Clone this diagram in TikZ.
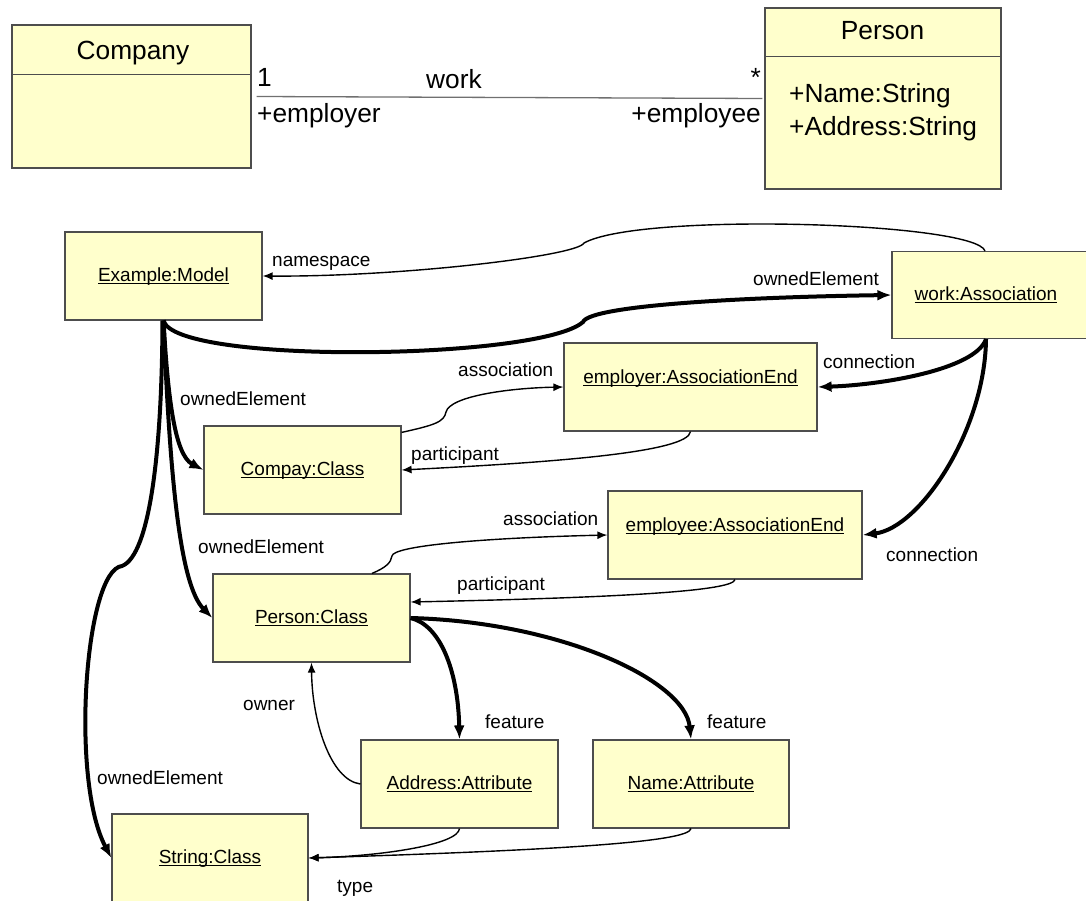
\documentclass[tikz,border=0pt]{standalone}
\usepackage{fontspec}
\setmainfont{Liberation Sans}
\usetikzlibrary{arrows.meta}
\definecolor{boxfill}{HTML}{FFFFCC}
\definecolor{boxline}{HTML}{4D4D4D}
\definecolor{assocline}{HTML}{707070}
\newcommand\lowfont{\fontsize{19}{23}\selectfont}
\newcommand\topfont{\fontsize{26.3}{31}\selectfont}
% underlined object name with a firm rule just below the baseline
\newcommand\objname[1]{\setbox0=\hbox{#1}\rlap{\rule[-3.2pt]{\wd0}{1.4pt}}\box0}
\begin{document}
\begin{tikzpicture}[x=1pt,y=-1pt,
  classbox/.style={draw=boxline,fill=boxfill,line width=1.2pt,inner sep=0pt},
  toptext/.style={font=\topfont,inner sep=0pt},
  obj/.style={draw=boxline,fill=boxfill,line width=1.2pt,minimum width=197pt,
    minimum height=88pt,inner sep=0pt,font=\lowfont,text height=14pt,text depth=4pt},
  objhigh/.style={obj,text depth=22pt},
  lbl/.style={font=\lowfont,inner sep=0pt,anchor=base west},
  thinlink/.style={line width=1.4pt,-{Latex[length=10pt,width=8pt]}},
  thicklink/.style={line width=4pt,-{Latex[length=14pt,width=11pt]}},
]
\useasboundingbox (0,0) rectangle (1086,901);
\fill[white] (0,0) rectangle (1086,901);

% ---------- class diagram ----------
\node[classbox,minimum width=239pt,minimum height=143pt] (company) at (131.5,96.5) {};
\draw[boxline,line width=1.2pt] ([yshift=-50pt]company.north west) -- ([yshift=-50pt]company.north east);
\node[toptext,anchor=base] (companyname) at (133,60) {Company};

\node[classbox,minimum width=236pt,minimum height=181pt] (person) at (883,98.5) {};
\draw[boxline,line width=1.2pt] ([yshift=-49pt]person.north west) -- ([yshift=-49pt]person.north east);
\node[toptext,anchor=base] (personname) at (882.5,40) {Person};
\node[toptext,anchor=base west] (attrname) at (789,103) {+Name:String};
\node[toptext,anchor=base west] (attraddr) at (789,136) {+Address:String};

\draw[assocline,line width=1.3pt] ([xshift=5pt]company.east) -- ([xshift=-2pt]person.west);
\node[toptext,anchor=base west] (multone) at (257,87) {1};
\node[toptext,anchor=base west] (assocname) at (426,89) {work};
\node[toptext,anchor=base west] (roleemployer) at (257,123) {+employer};
\node[toptext,anchor=base east] (multmany) at (761,87) {*};
\node[toptext,anchor=base east] (roleemployee) at (761,123) {+employee};

% ---------- object diagram ----------
\node[obj] (model) at (163.5,276) {\objname{Example:Model}};
\node[obj,minimum width=204pt,minimum height=87pt] (work) at (994,295) {\objname{work:Association}\hspace*{16pt}};
\node[objhigh,minimum width=253pt] (empr) at (690.5,387) {\objname{employer:AssociationEnd}};
\node[obj] (compay) at (302.5,470) {\objname{Compay:Class}};
\node[objhigh,minimum width=254pt] (empe) at (735,535) {\objname{employee:AssociationEnd}};
\node[obj] (personc) at (311.5,618) {\objname{Person:Class}};
\node[obj] (addr) at (459.5,784) {\objname{Address:Attribute}};
\node[obj,minimum width=196pt] (name) at (691,784) {\objname{Name:Attribute}};
\node[obj,minimum width=196pt] (string) at (210,858) {\objname{String:Class}};

% links
\draw[thinlink] ([xshift=-9pt]work.north) .. controls (975,222) and (640,212) .. (584,243)
  .. controls (578,256) and (400,277) .. (model.east);
\draw[thicklink] (model.south) .. controls (175,365) and (540,360) .. (583,322)
  .. controls (590,305) and (750,297) .. (work.west);
\draw[thicklink] ([xshift=-8pt]work.south) .. controls (975,370) and (880,385) .. (empr.east);
\draw[thicklink] ([xshift=-8pt]work.south) .. controls (985,430) and (920,528) .. (empe.east);
\draw[thinlink] ([yshift=-7pt]compay.north east) .. controls (435,425) and (444,422) .. (446,412)
  .. controls (450,396) and (510,388) .. (empr.west);
\draw[thinlink] (empr.south) .. controls (688,452) and (560,462) .. (compay.east);
\draw[thinlink] ([xshift=60.5pt]personc.north) .. controls (385,568) and (391,563) .. (392,556)
  .. controls (393,546) and (480,538) .. (empe.west);
\draw[thinlink] (empe.south) .. controls (733,592) and (600,598) .. ([yshift=16pt]personc.east);
\draw[thicklink] (model.south) .. controls (168,400) and (175,455) .. (compay.west);
\draw[thicklink] (model.south) .. controls (170,480) and (180,585) .. (personc.west);
\draw[thicklink] ([xshift=-1pt]model.south) .. controls (162,450) and (150,555) .. (122,566)
  .. controls (85,570) and (70,780) .. (string.west);
\draw[thicklink] (personc.east) .. controls (440,625) and (458,670) .. (addr.north);
\draw[thicklink] (personc.east) .. controls (560,622) and (685,680) .. (name.north);
\draw[thinlink] (addr.west) .. controls (330,780) and (312,720) .. (personc.south);
\draw[thinlink] (addr.south) .. controls (458,845) and (380,856) .. (string.east);
\draw[thinlink] (name.south) .. controls (689,842) and (560,850) .. (string.east);

% link labels
\node[lbl] (lnamespace) at (272,266.5) {namespace};
\node[lbl] (lownwork) at (753,285) {ownedElement};
\node[lbl] (lconn1) at (823,368) {connection};
\node[lbl] (lconn2) at (886,561.5) {connection};
\node[lbl] (lassoc1) at (458,376.5) {association};
\node[lbl] (lpart1) at (411,460) {participant};
\node[lbl] (lowncompay) at (180,405) {ownedElement};
\node[lbl] (lassoc2) at (503,525) {association};
\node[lbl] (lpart2) at (457,590) {participant};
\node[lbl] (lownperson) at (198,553) {ownedElement};
\node[lbl] (lownstring) at (97,784) {ownedElement};
\node[lbl] (lfeat1) at (485,728) {feature};
\node[lbl] (lfeat2) at (707,728) {feature};
\node[lbl] (lowner) at (243,710) {owner};
\node[lbl] (ltype) at (337,892.5) {type};
\end{tikzpicture}
\end{document}
